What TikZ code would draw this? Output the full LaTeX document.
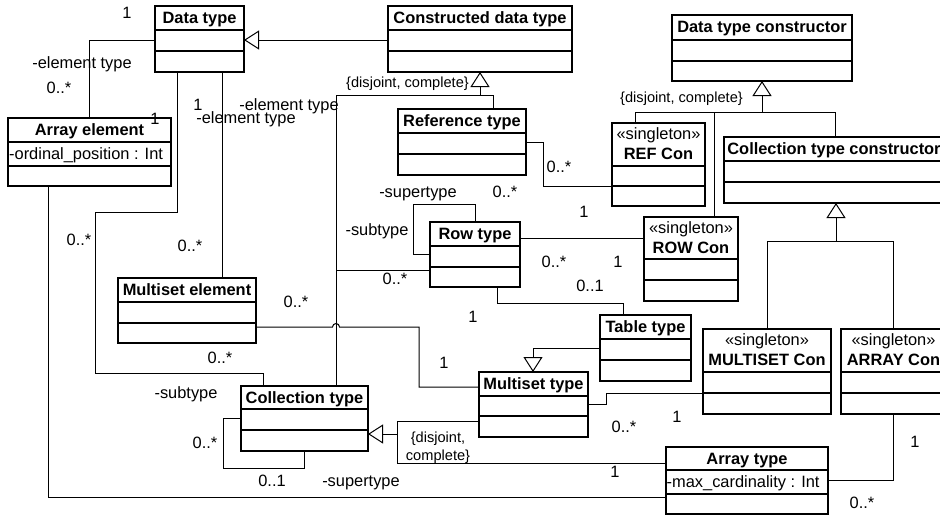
\documentclass[tikz,border=0pt]{standalone}
\usepackage{fontspec}
\setmainfont{Liberation Sans}
\usetikzlibrary{arrows.meta}

\newcommand\umlfont{\fontsize{16.4}{19.6}\selectfont}
\newcommand\cstrfont{\fontsize{14.6}{18}\selectfont}

\tikzset{
  clsbox/.style={draw, line width=1.2pt, anchor=north west, inner sep=0pt, outer sep=0pt},
  clsline/.style={line width=1.2pt},
  clsname/.style={anchor=base, inner sep=0pt, font=\umlfont\bfseries},
  stereo/.style={anchor=base, inner sep=0pt, font=\umlfont},
  attr/.style={anchor=base west, inner sep=0pt, font=\umlfont},
  lbl/.style={anchor=base, inner sep=0pt, font=\umlfont},
  cstr/.style={anchor=base, inner sep=0pt, font=\cstrfont},
  assoc/.style={line width=1pt},
  gen/.style={line width=1pt, -{Triangle[open, length=15pt, width=19pt]}},
}

% class box: name, x1, y1, x2, y2, first divider, second divider, title
\newcommand\umlclass[8]{%
  \node[clsbox, minimum width={#4-#2}, minimum height={#5-#3}] (#1) at (#2,#3) {};
  \draw[clsline] (#1.west |- 0,#6) -- (#1.east |- 0,#6);
  \draw[clsline] (#1.west |- 0,#7) -- (#1.east |- 0,#7);
  \node[clsname] (#1-name) at ({(#2+#4)/2},{#3+17.5}) {#8};
}
% singleton class box with stereotype line
\newcommand\umlsingle[8]{%
  \node[clsbox, minimum width={#4-#2}, minimum height={#5-#3}] (#1) at (#2,#3) {};
  \draw[clsline] (#1.west |- 0,#6) -- (#1.east |- 0,#6);
  \draw[clsline] (#1.west |- 0,#7) -- (#1.east |- 0,#7);
  \node[stereo] (#1-st) at ({(#2+#4)/2},{#3+16}) {«singleton»};
  \node[clsname] (#1-name) at ({(#2+#4)/2},{#3+36.5}) {#8};
}

\begin{document}
\begin{tikzpicture}[x=1pt,y=-1pt]
\useasboundingbox (0,0) rectangle (940,517);
\fill[white] (0,0) rectangle (940,517);
\clip (0,0) rectangle (940,517);

% classes
\umlclass{dt}{155}{6}{244}{72}{30}{51}{Data type}
\umlclass{cdt}{388}{6}{572}{72}{30}{51}{Constructed data type}
\umlclass{dtc}{672}{15}{852}{81}{40}{61}{Data type constructor}
\umlclass{ae}{8}{118}{171}{186}{142}{166}{Array element}
\umlclass{rt}{398}{109}{526}{175}{133}{154}{Reference type}
\umlsingle{refc}{612}{123}{705}{206}{166}{186}{REF Con}
\umlclass{ctc}{724}{137}{944}{203}{161}{182}{Collection type constructor}
\umlsingle{rowc}{644}{217}{738}{301}{259}{280}{ROW Con}
\umlclass{rowt}{430}{222}{520}{287}{246}{267}{Row type}
\umlclass{mse}{118}{278}{256}{343}{302}{323}{Multiset element}
\umlclass{tt}{600}{315}{691}{381}{339}{360}{Table type}
\umlclass{mst}{479}{372}{588}{437}{396}{416}{Multiset type}
\umlclass{ct}{241}{386}{368}{451}{409}{430}{Collection type}
\umlsingle{msc}{703}{329}{831}{414}{372}{393}{MULTISET Con}
\umlsingle{acon}{841}{329}{946}{414}{372}{393}{ARRAY Con}
\umlclass{at}{666}{447}{828}{514}{470}{494}{Array type}

% attributes
\node[attr] (ae-attr) at (9,159) {-ordinal\_position : Int};
\node[attr] (at-attr) at (666.5,487) {-max\_cardinality : Int};

% junctions of the generalization trees
\coordinate (j1) at (480,95);
\coordinate (j2) at (336,270);
\coordinate (j3) at (762,112);
\coordinate (j4) at (714,112);
\coordinate (j5) at (836,241);
\coordinate (j6) at (397,434);

% generalizations
\draw[gen] (cdt.west |- 0,40) -- (dt.east |- 0,40);
\draw[gen] (j1) -- (cdt.south -| 480,0);
\draw[assoc] (rt.north -| 493,0) -- (493,95) -- (336,95) -- (ct.north -| 336,0);
\draw[assoc] (j2) -- (rowt.west |- 0,270);
\draw[gen] (j3) -- (dtc.south -| 762,0);
\draw[assoc] (refc.north -| 635,0) -- (635,112) -- (835,112) -- (ctc.north -| 835,0);
\draw[assoc] (j4) -- (rowc.north -| 714,0);
\draw[gen] (j5) -- (ctc.south -| 836,0);
\draw[assoc] (msc.north -| 767,0) -- (767,241) -- (893,241) -- (acon.north -| 893,0);
\draw[gen] (tt.west |- 0,348) -| (mst.north -| 533,0);
\draw[gen] (j6) -- (ct.east |- 0,434);
\draw[assoc] (mst.west |- 0,421) -- (397,421) -- (397,463) -- (at.west |- 0,463);

% associations
\draw[assoc] (dt.west |- 0,40) -| (ae.north -| 89,0);
\draw[assoc] (dt.south -| 222,0) -- (mse.north -| 222,0);
\draw[assoc] (dt.south -| 177,0) |- (95,212) |- (263,373) -- (ct.north -| 263,0);
\draw[assoc] (rt.east |- 0,142) -| (543,186) -- (refc.west |- 0,186);
\draw[assoc] (rowt.north -| 475,0) |- (413,204) |- (rowt.west |- 0,254);
\draw[assoc] (rowt.east |- 0,238) -- (rowc.west |- 0,238);
\draw[assoc] (rowt.south -| 497,0) |- (623,303) -- (tt.north -| 623,0);
\draw[assoc] (mse.east |- 0,327) -- (332.5,327)
  arc[start angle=180, end angle=0, radius=3.5pt] -- (419,327) -- (419,387) -- (mst.west |- 0,387);
\draw[assoc] (mst.east |- 0,404) -| (606,393) -- (msc.west |- 0,393);
\draw[assoc] (ae.south -| 48,0) |- (at.west |- 0,497);
\draw[assoc] (ct.west |- 0,418) -| (223,468) -| (ct.south -| 304,0);
\draw[assoc] (at.east |- 0,480) -| (acon.south -| 893,0);

% constraints
\node[cstr] (c1) at (407.5,87) {\{disjoint, complete\}};
\node[cstr] (c2) at (681.5,102) {\{disjoint, complete\}};
\node[cstr] (c3) at (438,442) {\{disjoint,};
\node[cstr] (c4) at (438,460) {complete\}};

% role names and multiplicities
\node[lbl] (m1) at (127,18.5) {1};
\node[lbl] (m2) at (82,68) {-element type};
\node[lbl] (m3) at (59,93) {0..*};
\node[lbl] (m4) at (155,124) {1};
\node[lbl] (m5) at (198,110) {1};
\node[lbl] (m6) at (289,110) {-element type};
\node[lbl] (m7) at (246,123.5) {-element type};
\node[lbl] (m8) at (559,172) {0..*};
\node[lbl] (m9) at (418,197) {-supertype};
\node[lbl] (m10) at (505,197) {0..*};
\node[lbl] (m11) at (584,217) {1};
\node[lbl] (m12) at (377,235) {-subtype};
\node[lbl] (m13) at (395,284) {0..*};
\node[lbl] (m14) at (554,267) {0..*};
\node[lbl] (m15) at (618,267) {1};
\node[lbl] (m16) at (590,291) {0..1};
\node[lbl] (m17) at (473,322) {1};
\node[lbl] (m18) at (444,368) {1};
\node[lbl] (m19) at (296,307) {0..*};
\node[lbl] (m20) at (79,245) {0..*};
\node[lbl] (m21) at (190,251) {0..*};
\node[lbl] (m22) at (220,363) {0..*};
\node[lbl] (m23) at (186,398) {-subtype};
\node[lbl] (m24) at (205,448) {0..*};
\node[lbl] (m25) at (272,486) {0..1};
\node[lbl] (m26) at (361,486) {-supertype};
\node[lbl] (m27) at (624,432) {0..*};
\node[lbl] (m28) at (677,422) {1};
\node[lbl] (m29) at (615,477) {1};
\node[lbl] (m30) at (915,447) {1};
\node[lbl] (m31) at (862,508) {0..*};
\end{tikzpicture}
\end{document}
